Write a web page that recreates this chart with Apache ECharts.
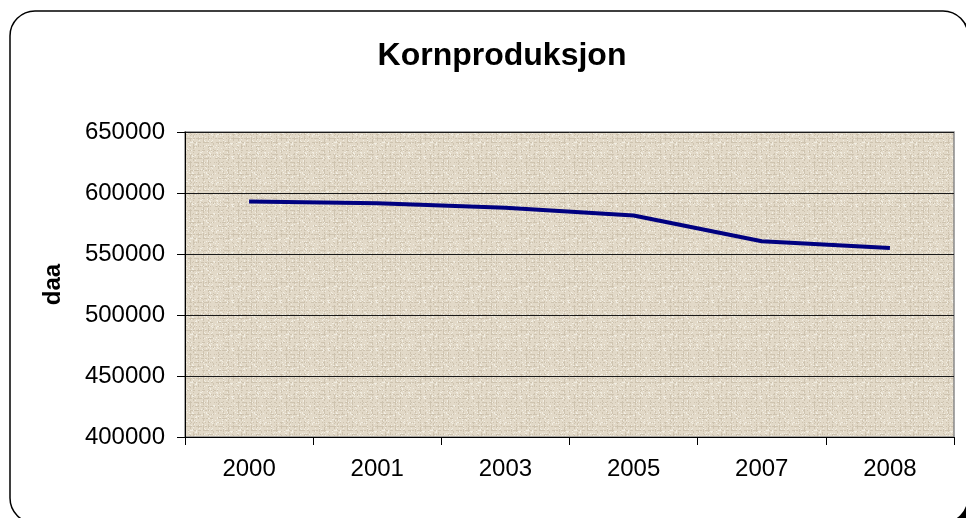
<!DOCTYPE html>
<html>
<head>
<meta charset="utf-8">
<script src="https://cdn.jsdelivr.net/npm/echarts@6/dist/echarts.min.js"></script>
<style>
  html, body { margin: 0; padding: 0; background: #fff; }
  #chart { width: 966px; height: 518px; }
</style>
</head>
<body>
<div id="chart"></div>
<script>
// data
var years = ['2000', '2001', '2003', '2005', '2007', '2008'];
var areal = [593000, 591500, 588000, 581500, 560500, 555000];

// textured tan background for the plot area (woven look, fixed pattern)
function makeTexture() {
  var n = 48;
  var c = document.createElement('canvas');
  c.width = n; c.height = n;
  var g = c.getContext('2d');
  g.fillStyle = '#e2d9c8';
  g.fillRect(0, 0, n, n);
  for (var y = 0; y < n; y++) {
    for (var x = 0; x < n; x++) {
      var h = ((x * 73856093) ^ (y * 19349663) ^ ((x >> 2) * 83492791)) >>> 0;
      var v = h % 17;
      if ((x % 5 === 1 || y % 4 === 2) && v < 8) {
        g.fillStyle = 'rgba(160,145,120,0.30)';
        g.fillRect(x, y, 1, 1);
      } else if (v === 3 || v === 11) {
        g.fillStyle = 'rgba(255,255,250,0.55)';
        g.fillRect(x, y, 1, 1);
      }
    }
  }
  return c;
}

var myChart = echarts.init(document.getElementById('chart'));

var option = {
  backgroundColor: '#fff',
  animation: false,
  title: {
    text: 'Kornproduksjon',
    left: 497,
    textAlign: 'center',
    top: 35,
    textStyle: { fontFamily: 'Liberation Sans', fontSize: 32, fontWeight: 'bold', color: '#000' }
  },
  graphic: [
    {
      type: 'rect', z: -10, silent: true,
      shape: { x: 14, y: 15, width: 958, height: 512, r: 25 },
      style: { fill: '#000' }
    },
    {
      type: 'rect', z: -9, silent: true,
      shape: { x: 10, y: 11, width: 958, height: 512, r: 25 },
      style: { fill: '#fff', stroke: '#000', lineWidth: 1.5 }
    }
  ],
  grid: {
    left: 185, right: 12, top: 132, bottom: 81,
    show: true,
    backgroundColor: { image: makeTexture(), repeat: 'repeat' },
    borderColor: '#8a8a8a',
    borderWidth: 1.5
  },
  xAxis: {
    type: 'category',
    data: years,
    boundaryGap: true,
    axisLine: { lineStyle: { color: '#000', width: 1 } },
    axisTick: { show: true, length: 8, alignWithLabel: false, lineStyle: { color: '#000' } },
    axisLabel: { margin: 20, fontFamily: 'Liberation Sans', fontSize: 24, color: '#000' },
    splitLine: { show: false }
  },
  yAxis: {
    type: 'value',
    min: 400000,
    max: 650000,
    interval: 50000,
    name: 'daa',
    nameLocation: 'middle',
    nameGap: 120,
    nameTextStyle: { fontFamily: 'Liberation Sans', fontSize: 24, fontWeight: 'bold', color: '#000' },
    axisLine: { show: true, lineStyle: { color: '#000', width: 1 } },
    axisTick: { show: true, length: 8, lineStyle: { color: '#000' } },
    axisLabel: {
      margin: 20, fontFamily: 'Liberation Sans', fontSize: 24, color: '#000',
      formatter: function (v) { return String(v); }
    },
    splitLine: { show: true, lineStyle: { color: '#1a1a1a', width: 1 } }
  },
  series: [{
    name: 'daa',
    type: 'line',
    data: areal,
    showSymbol: false,
    symbol: 'none',
    lineStyle: { color: '#000080', width: 4 },
    itemStyle: { color: '#000080' }
  }]
};

myChart.setOption(option);
</script>
</body>
</html>
